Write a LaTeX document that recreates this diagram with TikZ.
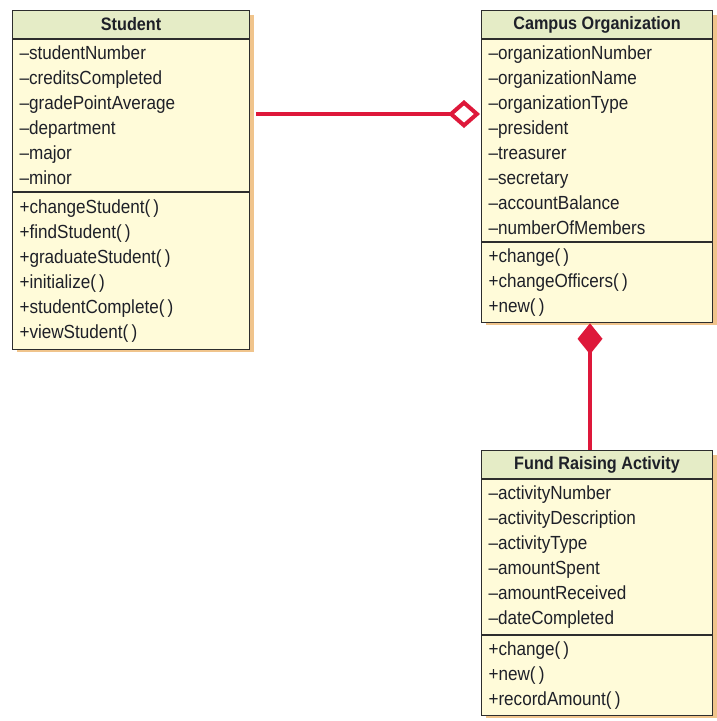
\documentclass[tikz,border=0pt]{standalone}
\usepackage{fontspec}
\setmainfont[FakeStretch=0.9]{Liberation Sans}
\usetikzlibrary{arrows.meta,calc}
\definecolor{redc}{RGB}{222,24,58}
\definecolor{hdrc}{RGB}{229,236,198}
\definecolor{bodyc}{RGB}{255,251,217}
\definecolor{shadowc}{RGB}{240,196,140}
\definecolor{linec}{RGB}{45,45,45}
\definecolor{txtc}{RGB}{30,32,40}
\tikzset{
  hdr/.style={draw=linec, fill=hdrc, line width=1.1pt, anchor=north west, inner sep=0pt,
    minimum height=28pt, text=txtc, font=\bfseries\fontsize{18}{20}\selectfont},
  sect/.style={draw=linec, fill=bodyc, line width=1.1pt, anchor=north west, align=left,
    inner xsep=7pt, inner ysep=0pt, text=txtc, font=\fontsize{19}{25}\selectfont},
  shade/.style={fill=shadowc},
  agg/.style={draw=redc, line width=4.5pt, -{Diamond[open, length=32pt, width=28pt, line width=4pt]}},
  comp/.style={draw=redc, line width=4.5pt, -{Diamond[length=31pt, width=25pt, fill=redc]}}
}
\begin{document}
\begin{tikzpicture}[x=1pt,y=1pt]
\useasboundingbox (0,0) rectangle (717,-721);
% shadows
\fill[shade] (17,-15) rectangle (254,-352);
\fill[shade] (486,-15) rectangle (717,-325);
\fill[shade] (486,-455) rectangle (717,-718);
% Student
\node[hdr, minimum width=237pt] (sh) at (12,-10) {Student};
\node[sect, minimum width=237pt, text width=223pt, minimum height=152pt] (sa) at (sh.south west)
 {--studentNumber\\--creditsCompleted\\--gradePointAverage\\--department\\--major\\--minor};
\node[sect, minimum width=237pt, text width=223pt, minimum height=157pt] (sm) at (sa.south west)
 {+changeStudent(\,)\\+findStudent(\,)\\+graduateStudent(\,)\\+initialize(\,)\\+studentComplete(\,)\\+viewStudent(\,)};
% Campus Organization
\node[hdr, minimum width=231pt] (ch) at (481,-10) {Campus Organization};
\node[sect, minimum width=231pt, text width=217pt, minimum height=202pt] (ca) at (ch.south west)
 {--organizationNumber\\--organizationName\\--organizationType\\--president\\--treasurer\\--secretary\\--accountBalance\\--numberOfMembers};
\node[sect, minimum width=231pt, text width=217pt, minimum height=80pt] (cm) at (ca.south west)
 {+change(\,)\\+changeOfficers(\,)\\+new(\,)};
% Fund Raising Activity
\node[hdr, minimum width=231pt] (fh) at (481,-450) {Fund Raising Activity};
\node[sect, minimum width=231pt, text width=217pt, minimum height=155pt] (fa) at (fh.south west)
 {--activityNumber\\--activityDescription\\--activityType\\--amountSpent\\--amountReceived\\--dateCompleted};
\node[sect, minimum width=231pt, text width=217pt, minimum height=80pt] (fm) at (fa.south west)
 {+change(\,)\\+new(\,)\\+recordAmount(\,)};
% connectors
\draw[agg] ($(sh.north east)+(6,-104)$) -- ($(ch.north west)+(-1,-104)$);
\draw[comp] ($(fh.north west)+(109,0)$) -- ($(cm.south west)+(109,0)$);
\end{tikzpicture}
\end{document}
